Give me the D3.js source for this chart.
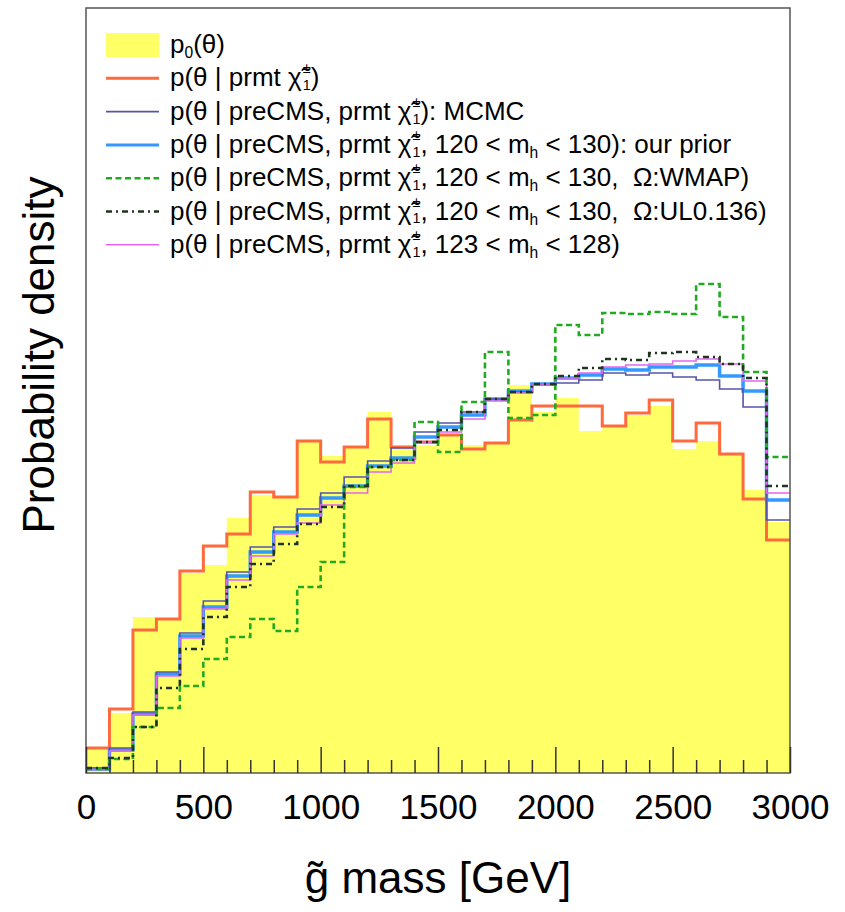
<!DOCTYPE html>
<html>
<head>
<meta charset="utf-8">
<script src="https://cdn.jsdelivr.net/npm/d3@7"></script>
<style>
  html, body { margin: 0; padding: 0; background: #fff; }
  svg text { font-family: "Liberation Sans", Arial, Helvetica, sans-serif; white-space: pre; }
</style>
</head>
<body>
<svg id="chart" width="845" height="912"></svg>
<script>
// ---------------- data ----------------
const binEdges = [0,100,200,300,400,500,600,700,800,900,1000,1100,1200,1300,1400,1500,
                  1600,1700,1800,1900,2000,2100,2200,2300,2400,2500,2600,2700,2800,2900,3000];
const majorTicks = [0,500,1000,1500,2000,2500,3000];
const minorTicks = [100,200,300,400,600,700,800,900,1100,1200,1300,1400,1600,1700,1800,1900,
                    2100,2200,2300,2400,2600,2700,2800,2900];

// p0(theta) - yellow filled
const p0 = [24,60,156,154,200,208,255,278,275,332,317,326,361,324,328,338,328,331,388,361,375,342,346,358,367,324,332,319,283,251];
// p(theta | prmt chi)
const pPrmt = [25,64,143,154,202,227,239,281,276,332,311,326,354,326,331,338,324,330,353,367,367,367,347,360,373,332,350,319,274,233];
// MCMC
const pMCMC = [5,25,61,101,140,172,201,226,246,264,280,296,312,325,341,350,361,374,381,388,390,393,400,398,400,396,393,384,366,253];
// our prior
const pPrior = [4,23,59,99,137,166,197,221,241,258,275,287,307,315,336,346,358,374,382,389,395,398,404,403,406,406,408,397,382,273];
// WMAP
const pWMAP = [4,14,46,65,87,114,136,154,142,186,211,286,306,313,351,321,371,421,355,358,448,438,460,459,461,459,489,456,401,316];
// UL0.136
const pUL = [5,15,46,85,124,156,186,209,229,249,266,287,306,313,331,343,361,374,381,389,397,405,414,413,420,421,416,409,395,287];
// 123 < mh < 128
const pNarrow = [3.5,22,58,97,135,164,193,217,239,250,268,280,301,310,330,341,354,372,380,388,395,400,406,408,409,412,414,409,392,280];

const legendLabels = [
  "p_{0}(θ)",
  "p(θ | prmt {chi})",
  "p(θ | preCMS, prmt {chi}): MCMC",
  "p(θ | preCMS, prmt {chi}, 120 < m_{h} < 130): our prior",
  "p(θ | preCMS, prmt {chi}, 120 < m_{h} < 130,  Ω:WMAP)",
  "p(θ | preCMS, prmt {chi}, 120 < m_{h} < 130,  Ω:UL0.136)",
  "p(θ | preCMS, prmt {chi}, 123 < m_{h} < 128)"
];
const xTitle = "{gt} mass [GeV]";
const yTitle = "Probability density";

// ---------------- layout ----------------
const svg = d3.select("#chart");
const L = 86, R = 790, T = 8, B = 773;
const x = d3.scaleLinear().domain([0, 3000]).range([L, R]);
const y = d3.scaleLinear().domain([0, 765]).range([B, T]);

svg.append("defs").append("clipPath").attr("id", "clip")
  .append("rect").attr("x", L).attr("y", T).attr("width", R - L).attr("height", B - T);

function stepPoints(vals) {
  const pts = [];
  vals.forEach((v, i) => { pts.push([binEdges[i], v]); pts.push([binEdges[i + 1], v]); });
  return pts;
}

const plot = svg.append("g").attr("clip-path", "url(#clip)");

// yellow filled histogram
const area = d3.area().x(d => x(d[0])).y0(y(0)).y1(d => y(d[1]));
plot.append("path").attr("d", area(stepPoints(p0))).attr("fill", "#ffff66");

const line = d3.line().x(d => x(d[0])).y(d => y(d[1]));
const series = [
  { vals: pPrmt,   color: "#ff6a3d", width: 3,   dash: null },
  { vals: pMCMC,   color: "#5555aa", width: 1.6, dash: null },
  { vals: pPrior,  color: "#3399ff", width: 3.5, dash: null },
  { vals: pWMAP,   color: "#22aa22", width: 2.6, dash: "6,3.5" },
  { vals: pUL,     color: "#203520", width: 2.6, dash: "6,4,2,4" },
  { vals: pNarrow, color: "#e466f0", width: 1.6, dash: null }
];
// draw order: orange, blue, navy, magenta, green, black
[0, 2, 1, 5, 3, 4].forEach(i => {
  const s = series[i];
  plot.append("path").attr("d", line(stepPoints(s.vals)))
    .attr("fill", "none").attr("stroke", s.color).attr("stroke-width", s.width)
    .attr("stroke-dasharray", s.dash);
});

// frame
svg.append("rect").attr("x", L).attr("y", T).attr("width", R - L).attr("height", B - T)
  .attr("fill", "none").attr("stroke", "#555").attr("stroke-width", 1.5);

// axes
const axMajor = svg.append("g").attr("transform", `translate(0,${B})`)
  .call(d3.axisBottom(x).tickValues(majorTicks).tickSize(-26).tickPadding(21).tickFormat(d3.format("d")));
axMajor.select(".domain").remove();
axMajor.selectAll("line").attr("stroke", "#333").attr("stroke-width", 1.5);
axMajor.selectAll("text").attr("font-size", 35).attr("fill", "#000")
  .style("font-family", "'Liberation Sans', Arial, sans-serif");

const axMinor = svg.append("g").attr("transform", `translate(0,${B})`)
  .call(d3.axisBottom(x).tickValues(minorTicks).tickSize(-13).tickFormat(""));
axMinor.select(".domain").remove();
axMinor.selectAll("line").attr("stroke", "#333").attr("stroke-width", 1.5);

// rich text renderer (ROOT-like latex)
function rich(g, x0, yb, str, size) {
  let cx = x0;
  const parts = str.split(/(_\{[^}]*\}|\^\{[^}]*\}|\{chi\}|\{gt\})/).filter(s => s.length);
  const put = (t, px, py, sz) => {
    const el = g.append("text").attr("x", px).attr("y", py).attr("font-size", sz)
      .attr("fill", "#000").text(t);
    return el.node().getComputedTextLength();
  };
  parts.forEach(p => {
    if (p.startsWith("_{")) {
      cx += put(p.slice(2, -1), cx, yb + size * 0.2, size * 0.6);
    } else if (p.startsWith("^{")) {
      cx += put(p.slice(2, -1), cx, yb - size * 0.45, size * 0.6);
    } else if (p === "{chi}") {
      const w = put("\u03C7\u0303", cx, yb, size);
      const w1 = put("±", cx + w + 1, yb - size * 0.5, size * 0.55);
      const w2 = put("1", cx + w + 1, yb + size * 0.15, size * 0.55);
      cx += w + 1 + Math.max(w1, w2);
    } else if (p === "{gt}") {
      cx += put("g\u0303", cx, yb, size);
    } else {
      cx += put(p, cx, yb, size);
    }
  });
  return cx - x0;
}

// legend
const leg = svg.append("g");
const legY0 = 45, legDY = 33.3, legFont = 26;
legendLabels.forEach((lab, i) => {
  const cy = legY0 + i * legDY;
  if (i === 0) {
    leg.append("rect").attr("x", 106).attr("y", cy - 12).attr("width", 53).attr("height", 24)
      .attr("fill", "#ffff66");
  } else {
    const s = series[i - 1];
    leg.append("line").attr("x1", 106).attr("x2", 159).attr("y1", cy).attr("y2", cy)
      .attr("stroke", s.color).attr("stroke-width", Math.min(s.width, 3))
      .attr("stroke-dasharray", s.dash);
  }
  rich(leg, 170, cy + 8, lab, legFont);
});

// x title
const xt = svg.append("g");
const wx = rich(xt, 0, 0, xTitle, 44);
xt.attr("transform", `translate(${(L + R) / 2 - wx / 2},893)`);

// y title
svg.append("text").attr("transform", "translate(54,355) rotate(-90)")
  .attr("text-anchor", "middle").attr("font-size", 44).attr("fill", "#000").text(yTitle);
</script>
</body>
</html>
